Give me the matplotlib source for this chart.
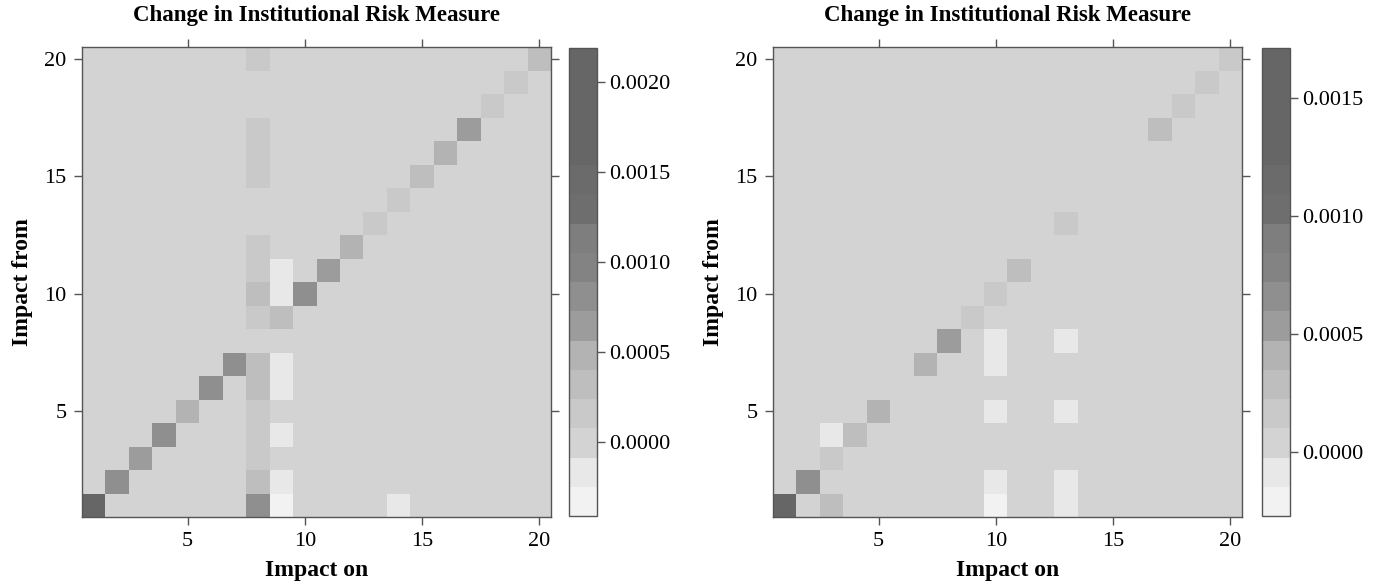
import numpy as np
import matplotlib
matplotlib.use("Agg")
import matplotlib.pyplot as plt
from matplotlib.colors import ListedColormap, BoundaryNorm

plt.rcParams['font.family'] = ['Liberation Serif', 'DejaVu Serif']

n_inst = 20
title = "Change in Institutional Risk Measure"

# non-background cells: (impact on, impact from, value); everything else is 0
left_on = [1, 2, 3, 4, 5, 6, 7, 9, 10, 11, 12, 13, 14, 15, 16, 17, 18, 19, 20,
           8, 8, 8, 8, 8, 8, 8, 8, 8, 8, 8, 8, 8, 8, 8,
           9, 9, 9, 9, 9, 9, 9, 14]
left_from = [1, 2, 3, 4, 5, 6, 7, 9, 10, 11, 12, 13, 14, 15, 16, 17, 18, 19, 20,
             1, 2, 3, 4, 5, 6, 7, 9, 10, 11, 12, 15, 16, 17, 20,
             1, 2, 4, 6, 7, 10, 11, 1]
left_val = [0.00219, 0.00081, 0.00065, 0.00081, 0.00048, 0.00081, 0.00081, 0.00032,
            0.00081, 0.00065, 0.00048, 0.00016, 0.00016, 0.00032, 0.00048, 0.00065,
            0.00016, 0.00016, 0.00032,
            0.00081, 0.00032, 0.00016, 0.00016, 0.00016, 0.00032, 0.00032, 0.00016,
            0.00032, 0.00016, 0.00016, 0.00016, 0.00016, 0.00016, 0.00016,
            -0.00041, -0.00017, -0.00017, -0.00017, -0.00017, -0.00017, -0.00017,
            -0.00017]

right_on = [1, 2, 3, 4, 5, 7, 8, 9, 10, 11, 13, 17, 18, 19, 20,
            3, 10, 13, 10, 13, 3, 10, 13, 10, 10, 13]
right_from = [1, 2, 3, 4, 5, 7, 8, 9, 10, 11, 13, 17, 18, 19, 20,
              1, 1, 1, 2, 2, 4, 5, 5, 7, 8, 8]
right_val = [0.001712, 0.00066, 0.00016, 0.00029, 0.00041, 0.00041, 0.00054,
             0.00016, 0.00016, 0.00029, 0.00016, 0.00029, 0.00016, 0.00016, 0.00016,
             0.00029, -0.000271, -0.000085, -0.000085, -0.000085, -0.000085,
             -0.000085, -0.000085, -0.000085, -0.000085, -0.000085]

left_ticks = [0.0, 0.0005, 0.0010, 0.0015, 0.0020]
right_ticks = [0.0, 0.0005, 0.0010, 0.0015]

grays = ['#f2f2f2', '#e8e8e8', '#d3d3d3', '#c9c9c9', '#bebebe', '#b3b3b3',
         '#9c9c9c', '#8f8f8f', '#838383', '#7e7e7e', '#6e6e6e', '#6b6b6b',
         '#666666', '#666666', '#666666', '#666666']
cmap = ListedColormap(grays)
frame = '#555555'

fig = plt.figure(figsize=(13.84, 5.84), dpi=100)


def make_matrix(on, frm, val):
    m = np.zeros((n_inst, n_inst))
    for a, b, v in zip(on, frm, val):
        m[b - 1, a - 1] = v
    return m


def draw_panel(rect, crect, on, frm, val, cticks):
    m = make_matrix(on, frm, val)
    bounds = np.linspace(m.min(), m.max(), len(grays) + 1)
    norm = BoundaryNorm(bounds, cmap.N)
    ax = fig.add_axes(rect)
    edges = np.arange(n_inst + 1) + 0.5
    mesh = ax.pcolormesh(edges, edges, m, cmap=cmap, norm=norm)
    ax.set_xlim(0.5, n_inst + 0.5)
    ax.set_ylim(0.5, n_inst + 0.5)
    ax.set_xticks([5, 10, 15, 20])
    ax.set_yticks([5, 10, 15, 20])
    ax.tick_params(direction='out', length=6, width=1, color=frame,
                   top=True, right=True, labelsize=16)
    ax.tick_params(axis='x', pad=5)
    ax.tick_params(axis='y', pad=5)
    for s in ax.spines.values():
        s.set_color(frame)
        s.set_linewidth(1)
    ax.set_title(title, fontsize=16.5, fontweight='bold', pad=19)
    ax.set_xlabel("Impact on", fontsize=17, fontweight='bold', labelpad=6)
    ax.set_ylabel("Impact from", fontsize=17, fontweight='bold', labelpad=8)

    cax = fig.add_axes(crect)
    cb = fig.colorbar(mesh, cax=cax, ticks=cticks)
    cb.ax.minorticks_off()
    cb.ax.set_yticklabels([f"{t:.4f}" for t in cticks])
    cb.ax.tick_params(direction='out', length=6, width=1, color=frame,
                      labelsize=16, pad=3)
    cb.outline.set_edgecolor(frame)
    cb.outline.set_linewidth(1)
    return ax


W, H = 1384, 584
draw_panel([82 / W, 67 / H, 469 / W, 470 / H], [569 / W, 68 / H, 28 / W, 468 / H],
           left_on, left_from, left_val, left_ticks)
draw_panel([773 / W, 67 / H, 469 / W, 470 / H], [1262 / W, 68 / H, 28 / W, 468 / H],
           right_on, right_from, right_val, right_ticks)

fig.savefig("out.png", dpi=100)
